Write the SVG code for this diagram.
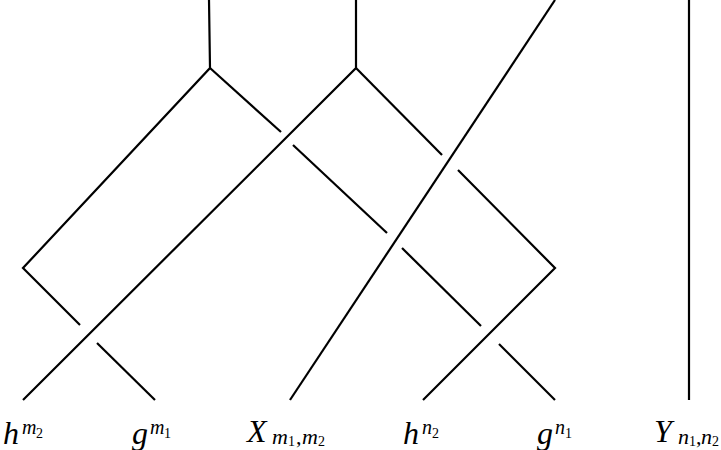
<svg xmlns="http://www.w3.org/2000/svg" width="721" height="450" viewBox="0 0 721 450">
<style>
.s{fill:none;stroke:#000;stroke-width:2.2;stroke-linecap:butt;stroke-linejoin:miter}
.t{font-family:"Liberation Serif","DejaVu Serif",serif;font-style:italic;fill:#000}
.u{font-family:"Liberation Serif","DejaVu Serif",serif;font-style:normal;fill:#000}
</style>
<rect width="721" height="450" fill="#fff"/>
<g id="connectors">
<polyline class="s" points="209,0 210,68 23,268 80,325"/>
<line class="s" x1="97" y1="343" x2="155" y2="400"/>
<line class="s" x1="210" y1="68" x2="281" y2="132"/>
<line class="s" x1="293" y1="145" x2="387" y2="233"/>
<line class="s" x1="402" y1="248" x2="481" y2="326"/>
<line class="s" x1="499" y1="344" x2="555" y2="400"/>
<polyline class="s" points="356,0 356,68 23,400"/>
<line class="s" x1="356" y1="68" x2="442" y2="155"/>
<polyline class="s" points="458,170 555,268 423,400"/>
<line class="s" x1="555" y1="0" x2="290" y2="400"/>
<line class="s" x1="689" y1="0" x2="689" y2="400"/>
</g>
<g id="label-h-m2">
<text class="t" x="3" y="444" font-size="32">h</text>
<text class="t" x="22" y="434" font-size="20">m</text>
<text class="u" x="36" y="438" font-size="14">2</text>
</g>
<g id="label-g-m1">
<text class="t" x="132" y="444" font-size="32">g</text>
<text class="t" x="150" y="434" font-size="20">m</text>
<text class="u" x="164" y="438" font-size="14">1</text>
</g>
<g id="label-X">
<text class="t" x="247" y="442" font-size="32">X</text>
<text class="t" x="272" y="444" font-size="22">m</text>
<text class="u" x="288" y="446" font-size="14">1</text>
<text class="u" x="296" y="444" font-size="22">,</text>
<text class="t" x="302" y="444" font-size="22">m</text>
<text class="u" x="318" y="446" font-size="14">2</text>
</g>
<g id="label-h-n2">
<text class="t" x="403" y="444" font-size="32">h</text>
<text class="t" x="422" y="434" font-size="20">n</text>
<text class="u" x="432" y="438" font-size="14">2</text>
</g>
<g id="label-g-n1">
<text class="t" x="537" y="444" font-size="32">g</text>
<text class="t" x="555" y="434" font-size="20">n</text>
<text class="u" x="565" y="438" font-size="14">1</text>
</g>
<g id="label-Y">
<text class="t" x="654" y="442" font-size="32">Y</text>
<text class="t" x="678" y="444" font-size="22">n</text>
<text class="u" x="689" y="446" font-size="14">1</text>
<text class="u" x="696" y="444" font-size="22">,</text>
<text class="t" x="701" y="444" font-size="22">n</text>
<text class="u" x="712" y="446" font-size="14">2</text>
</g>
</svg>
